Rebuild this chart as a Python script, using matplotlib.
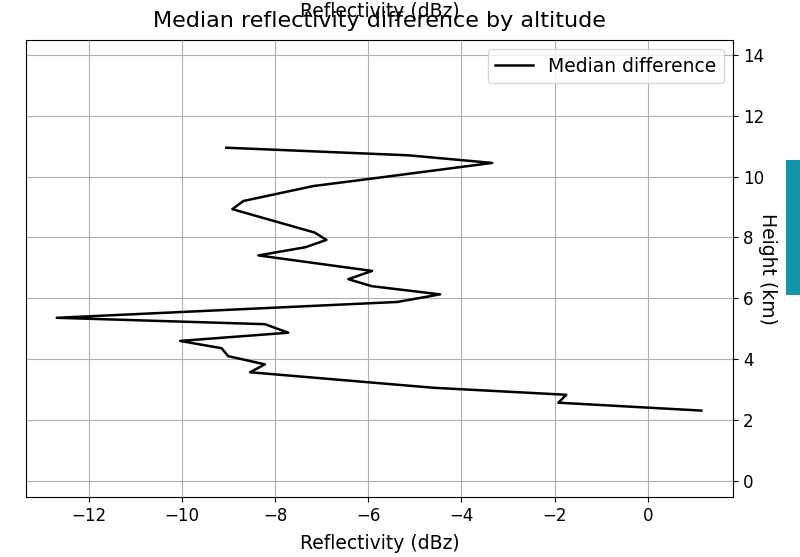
import matplotlib
matplotlib.use("Agg")
import matplotlib.pyplot as plt
from matplotlib.patches import Rectangle

# Height (km) and median reflectivity difference (dBz)
heights = [2.31, 2.57, 2.83, 3.06, 3.57, 3.83, 4.10, 4.36, 4.60, 4.87, 5.15,
           5.36, 5.88, 6.13, 6.40, 6.63, 6.90, 7.41, 7.68, 7.92, 8.16, 8.93,
           9.20, 9.69, 9.94, 10.45, 10.70, 10.95]
median_diff = [1.15, -1.92, -1.75, -4.6, -8.54, -8.22, -9.01, -9.15, -10.04,
               -7.72, -8.22, -12.69, -5.38, -4.46, -5.93, -6.43, -5.92, -8.36,
               -7.35, -6.90, -7.15, -8.92, -8.68, -7.18, -5.90, -3.34, -5.14,
               -9.05]
y_ticks = [0, 2, 4, 6, 8, 10, 12, 14]

plt.rcParams['font.size'] = 12
fig = plt.figure(figsize=(8, 5.57), dpi=100)
ax = fig.add_axes([0.0325, 0.1077, 0.8838, 0.8205])
ax.plot(median_diff, heights, color='black', linewidth=1.8, label='Median difference')
ax.set_ylim(-0.53, 14.49)
ax.set_xlim(-13.35, 1.83)
ax.set_yticks(y_ticks)
ax.yaxis.tick_right()
ax.yaxis.set_label_position('right')
ax.set_ylabel('Height (km)', rotation=270, fontsize=13.5, labelpad=9)
ax.set_xlabel('Reflectivity (dBz)', fontsize=13.5, labelpad=7)
ax.grid(True)
ax.legend(loc='upper right', fontsize=13.5)
ax.set_title('Median reflectivity difference by altitude', fontsize=16, pad=9)

# Top axis label overlapping the title, as in the reference
ax.text(0.5, 1.0, 'Reflectivity (dBz)', transform=ax.transAxes,
        ha='center', va='bottom', fontsize=13.5)
ax.texts[-1].set_position((0.5, 1.0 + 19 / 457))

fig.patches.append(Rectangle((786 / 800, 1 - 295 / 557), 14 / 800, 135 / 557,
                             transform=fig.transFigure, facecolor='#1296a6',
                             edgecolor='none', figure=fig))

fig.savefig('out.png', dpi=100)
